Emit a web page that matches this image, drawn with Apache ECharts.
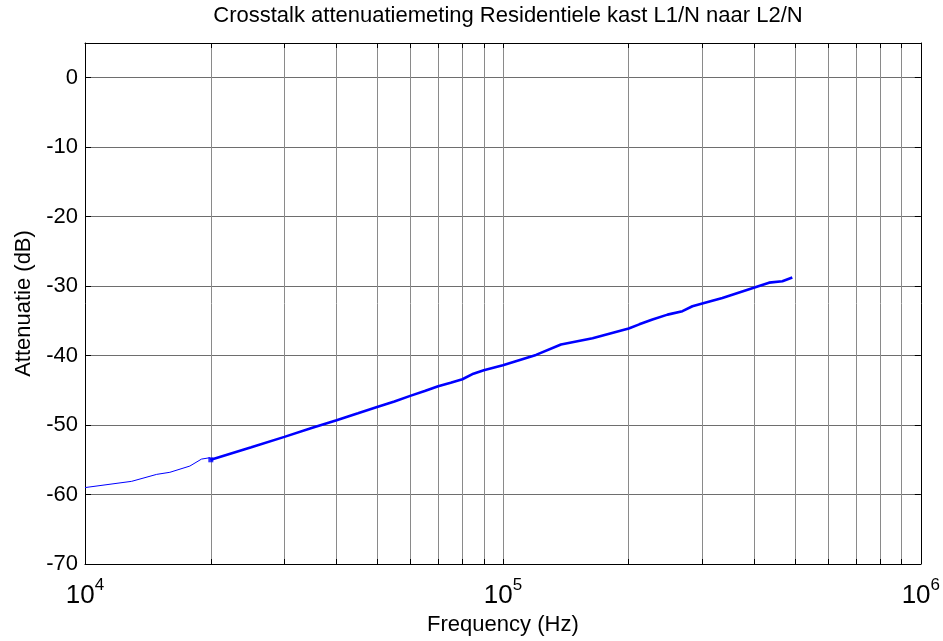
<!DOCTYPE html>
<html><head><meta charset="utf-8">
<script src="https://cdn.jsdelivr.net/npm/echarts@6/dist/echarts.min.js"></script>
<style>html,body{margin:0;padding:0;background:#fff}#c{width:943px;height:641px}</style>
</head><body><div id="c"></div>
<script>
const titleText = 'Crosstalk attenuatiemeting Residentiele kast L1/N naar L2/N';
const xName = 'Frequency (Hz)';
const yName = 'Attenuatie (dB)';
const lowFreq = [10000, 12930, 14840, 15960, 17820, 19000, 19890, 20000];
const lowAtt = [-59.0, -58.1, -57.1, -56.8, -55.9, -54.9, -54.7, -55.0];
const mainFreq = [20000, 25000, 30000, 35000, 40000, 45000, 50000, 55000, 60000, 65000, 70000, 75000, 80000, 85000, 90000, 100000, 120000, 137700, 163900, 200000, 212000, 228000, 247700, 268900, 284100, 300000, 335100, 400000, 433400, 466300, 492600];
const mainAtt = [-55.0, -53.2, -51.7, -50.4, -49.3, -48.3, -47.4, -46.6, -45.8, -45.1, -44.4, -43.9, -43.4, -42.6, -42.1, -41.4, -39.9, -38.4, -37.5, -36.1, -35.5, -34.8, -34.1, -33.6, -32.9, -32.5, -31.7, -30.2, -29.5, -29.3, -28.75];
const markFreq = [20000];
const markAtt = [-55.0];
const xLabelTicks = [10000, 100000, 1000000];
const xGridTicks = [10000, 20000, 30000, 40000, 50000, 60000, 70000, 80000, 90000, 100000, 200000, 300000, 400000, 500000, 600000, 700000, 800000, 900000, 1000000];
const yTicks = [-70, -60, -50, -40, -30, -20, -10, 0];

const FONT = '"Liberation Sans", Arial, sans-serif';
const zip = (a, b) => a.map((v, i) => [v, b[i]]);

const chart = echarts.init(document.getElementById('c'), null, {renderer: 'canvas'});
const xBase = {
  type: 'log', logBase: 10, min: 10000, max: 1000000,
  axisLine: {show: true, onZero: false, lineStyle: {color: '#000', width: 1}},
  axisTick: {show: true, inside: true, length: 5, customValues: xGridTicks, lineStyle: {color: '#000'}},
  minorTick: {show: false}
};
const yBase = {
  type: 'value', min: -70, max: 5, interval: 10,
  axisLine: {show: true, onZero: false, lineStyle: {color: '#000', width: 1}},
  axisTick: {show: true, inside: true, length: 6, customValues: yTicks, lineStyle: {color: '#000'}}
};
chart.setOption({
  animation: false,
  backgroundColor: '#fff',
  title: {
    text: titleText, left: 503, top: 0, textAlign: 'center',
    textStyle: {fontFamily: FONT, fontSize: 22, fontWeight: 'normal', color: '#000'}
  },
  grid: {left: 85, right: 21, top: 43, bottom: 77, containLabel: false},
  xAxis: [
    Object.assign({}, xBase, {
      position: 'bottom',
      name: xName, nameLocation: 'middle', nameGap: 45,
      nameTextStyle: {fontFamily: FONT, fontSize: 22, color: '#000'},
      axisLabel: {
        show: true, margin: 13, customValues: xLabelTicks,
        formatter: v => '{b|10}{s|' + Math.round(Math.log10(v)) + '}',
        rich: {
          b: {fontFamily: FONT, fontSize: 26, color: '#000', verticalAlign: 'bottom', lineHeight: 32},
          s: {fontFamily: FONT, fontSize: 17, color: '#000', verticalAlign: 'top', lineHeight: 20}
        }
      },
      splitLine: {show: true, lineStyle: {color: '#8a8a8a', width: 1}}
    }),
    Object.assign({}, xBase, {
      position: 'top', axisLabel: {show: false}, splitLine: {show: false}
    })
  ],
  yAxis: [
    Object.assign({}, yBase, {
      position: 'left',
      name: yName, nameLocation: 'middle', nameGap: 44, nameRotate: 90,
      nameTextStyle: {fontFamily: FONT, fontSize: 22, color: '#000'},
      axisLabel: {show: true, margin: 7, customValues: yTicks, fontFamily: FONT, fontSize: 22, color: '#000'},
      splitLine: {show: true, lineStyle: {color: '#6e6e6e', width: 1}}
    }),
    Object.assign({}, yBase, {
      position: 'right', axisLabel: {show: false}, splitLine: {show: false}
    })
  ],
  series: [
    {
      type: 'line', xAxisIndex: 0, yAxisIndex: 0, data: zip(lowFreq, lowAtt),
      showSymbol: false, symbol: 'none', smooth: false,
      lineStyle: {color: '#0000ff', width: 1}
    },
    {
      type: 'line', xAxisIndex: 0, yAxisIndex: 0, data: zip(mainFreq, mainAtt),
      showSymbol: false, symbol: 'none', smooth: false,
      lineStyle: {color: '#0000ff', width: 2.6}
    },
    {
      type: 'scatter', xAxisIndex: 0, yAxisIndex: 0, data: zip(markFreq, markAtt),
      symbol: 'rect', symbolSize: 5, itemStyle: {color: '#0000ff'}
    }
  ]
});
</script></body></html>
